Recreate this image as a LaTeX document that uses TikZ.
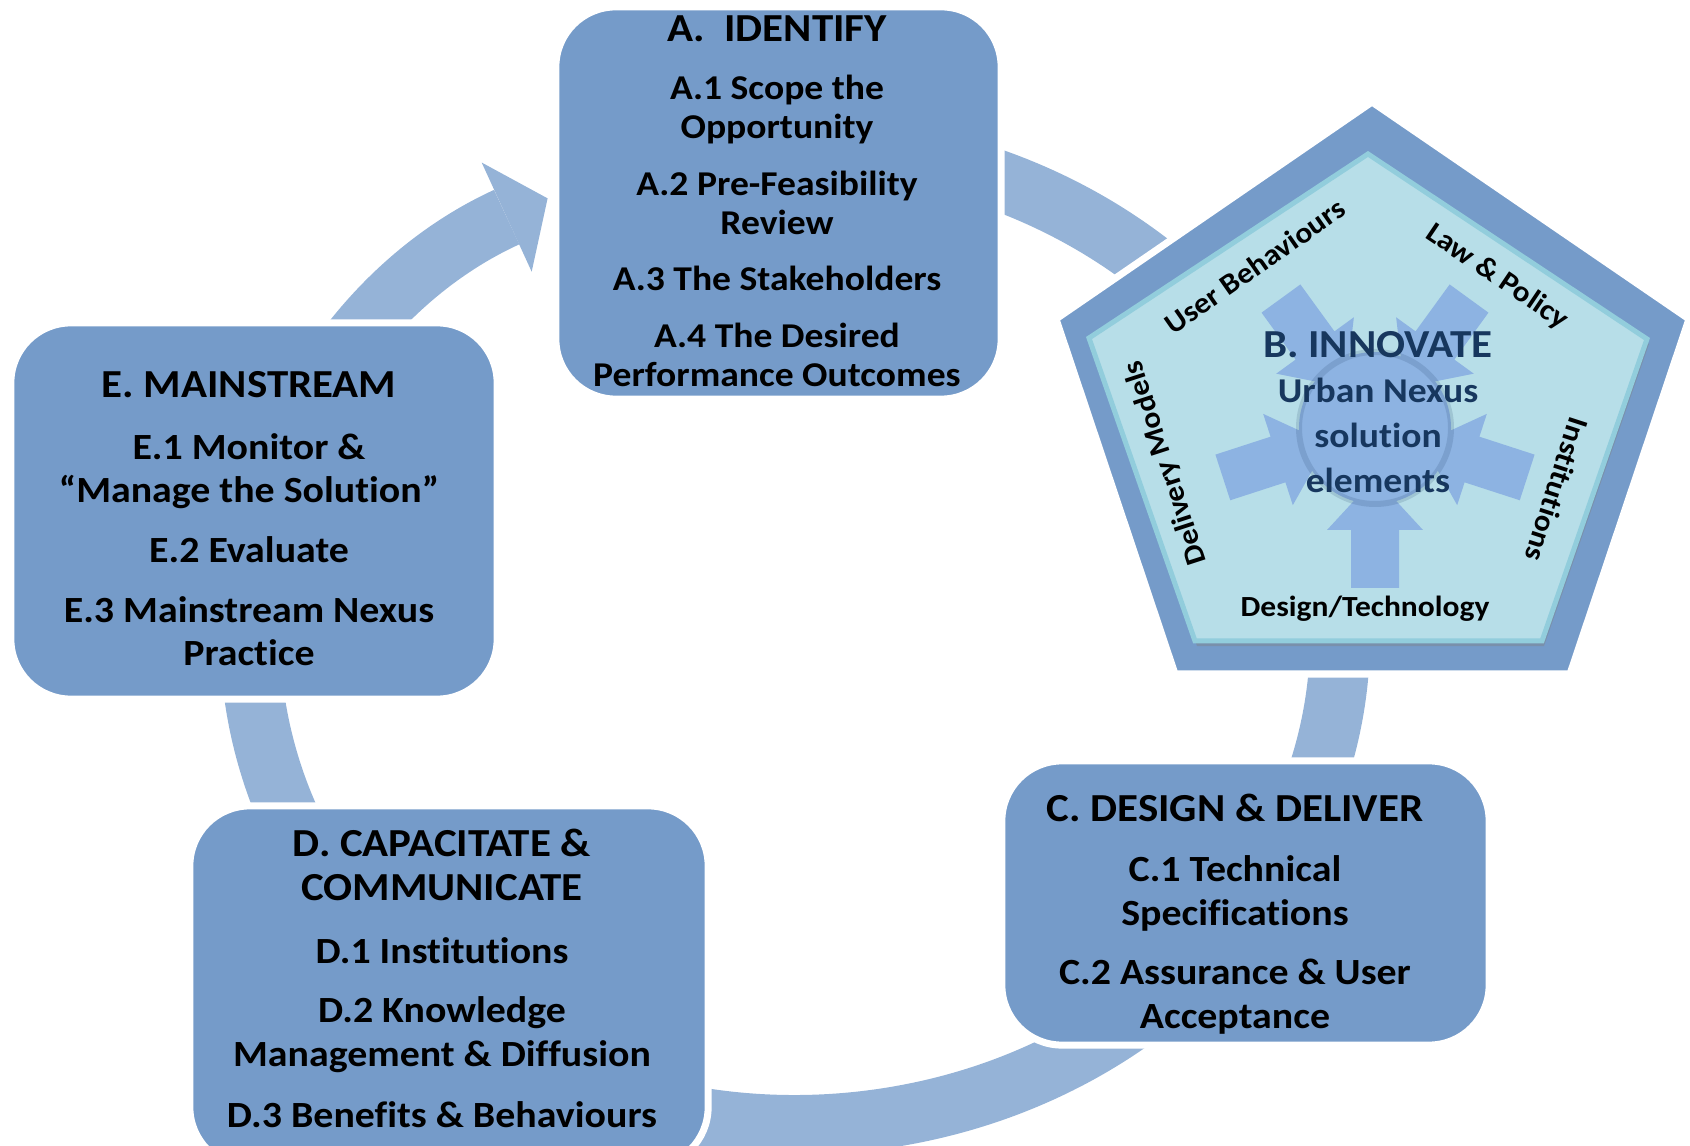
\documentclass[tikz,border=0pt]{standalone}
\usepackage{fontspec}
\setmainfont{Carlito}[FakeStretch=1.08, Ligatures={NoCommon}]
\usetikzlibrary{arrows.meta,shadows}

\definecolor{stageblue}{RGB}{117,155,201}
\definecolor{ringblue}{RGB}{149,179,215}
\definecolor{pentfill}{RGB}{183,222,232}
\definecolor{pentline}{RGB}{146,205,220}
\definecolor{corefill}{RGB}{141,179,226}
\definecolor{corenavy}{RGB}{23,55,94}

\newcommand{\stagehead}{\fontsize{11.3}{12.5}\selectfont}

\tikzset{
  stage/.style={rectangle, rounded corners=0.6cm, fill=stageblue, draw=white, line width=0.07cm, inner sep=0pt},
  stagetext/.style={align=center, anchor=north, inner sep=0pt, font=\bfseries},
  sidelabel/.style={inner sep=0pt, font=\bfseries\fontsize{8.3}{10}\selectfont},
}

\begin{document}
\begin{tikzpicture}[x=0.01cm, y=-0.01cm]
\useasboundingbox (0,0) rectangle (1690,1146);
\clip (0,0) rectangle (1690,1146);

% the cycle behind the stages
\coordinate (ringstart) at (700.4,152.4);
\draw[ringblue, line width=0.6cm, -{Triangle[length=0.45cm, width=1.2cm, line width=0pt]}]
  (ringstart) arc[start angle=-100, end angle=243, x radius=545, y radius=490];

% stages
\node[stage, minimum width=4.45cm, minimum height=3.92cm] (A) at (778.5,203) {};
\node[stage, minimum width=4.86cm, minimum height=3.76cm] (E) at (254,511) {};
\node[stage, minimum width=5.18cm, minimum height=3.61cm] (D) at (449,986.5) {};
\node[stage, minimum width=4.87cm, minimum height=2.84cm] (C) at (1245.5,903) {};

\node[stagetext, font=\bfseries\fontsize{9.9}{11.1}\selectfont] (Atext) at (777,15)
  {\stagehead A.\ \ IDENTIFY\\[5.4pt]
   A.1 Scope the\\Opportunity\\[5pt]
   A.2 Pre-Feasibility\\Review\\[5pt]
   A.3 The Stakeholders\\[5pt]
   A.4 The Desired\\Performance Outcomes};
\node[stagetext, font=\bfseries\fontsize{10.5}{12.2}\selectfont] (Etext) at (249,371)
  {\stagehead E. MAINSTREAM\\[5.4pt]
   E.1 Monitor \&\\“Manage the Solution”\\[4.9pt]
   E.2 Evaluate\\[4.9pt]
   E.3 Mainstream Nexus\\Practice};
\node[stagetext, font=\bfseries\fontsize{10.5}{12.5}\selectfont] (Dtext) at (442,828)
  {\stagehead D. CAPACITATE \&\\\stagehead COMMUNICATE\\[5.4pt]
   D.1 Institutions\\[4.3pt]
   D.2 Knowledge\\Management \& Diffusion\\[4.9pt]
   D.3 Benefits \& Behaviours};
\node[stagetext, font=\bfseries\fontsize{10.5}{12.5}\selectfont] (Ctext) at (1235,793)
  {\stagehead C. DESIGN \& DELIVER\\[4.6pt]
   C.1 Technical\\Specifications\\[4.3pt]
   C.2 Assurance \& User\\Acceptance};

% innovate pentagon
\coordinate (p1) at (1372,102);
\coordinate (p2) at (1689,319);
\coordinate (p3) at (1570,674);
\coordinate (p4) at (1175,674);
\coordinate (p5) at (1056,319);
\filldraw[fill=stageblue, draw=white, line width=0.07cm] (p1) -- (p2) -- (p3) -- (p4) -- (p5) -- cycle;
\coordinate (q1) at (1368,154);
\coordinate (q2) at (1647,339);
\coordinate (q3) at (1542,641);
\coordinate (q4) at (1195,641);
\coordinate (q5) at (1089,338);
\filldraw[fill=pentfill, draw=pentline, line width=0.05cm,
  drop shadow={shadow xshift=0.02cm, shadow yshift=-0.05cm, opacity=0.4}]
  (q1) -- (q2) -- (q3) -- (q4) -- (q5) -- cycle;

\foreach \k in {0,...,4}
  \fill[corefill, rotate around={72*\k:(1375,428)}]
    (1351,588) -- (1399,588) -- (1399,530) -- (1423,530) -- (1375,478)
    -- (1327,530) -- (1351,530) -- cycle;
\filldraw[fill=corefill, draw=corenavy, draw opacity=0.15, line width=0.06cm] (1375,428) circle[radius=76];

\node[stagetext, text=corenavy, font=\bfseries\fontsize{9.9}{12.8}\selectfont] (core) at (1378,331)
  {\fontsize{11.3}{12.8}\selectfont B. INNOVATE\\Urban Nexus\\solution\\elements};

\node[sidelabel, rotate=35] (users) at (1255,266) {User Behaviours};
\node[sidelabel, rotate=-34] (law) at (1497,277) {Law \& Policy};
\node[sidelabel, rotate=-108] (inst) at (1557,490) {Institutions};
\node[sidelabel, rotate=108] (delivery) at (1166,463) {Delivery Models};
\node[sidelabel, anchor=base] (design) at (1365,617) {Design/Technology};
\end{tikzpicture}
\end{document}
